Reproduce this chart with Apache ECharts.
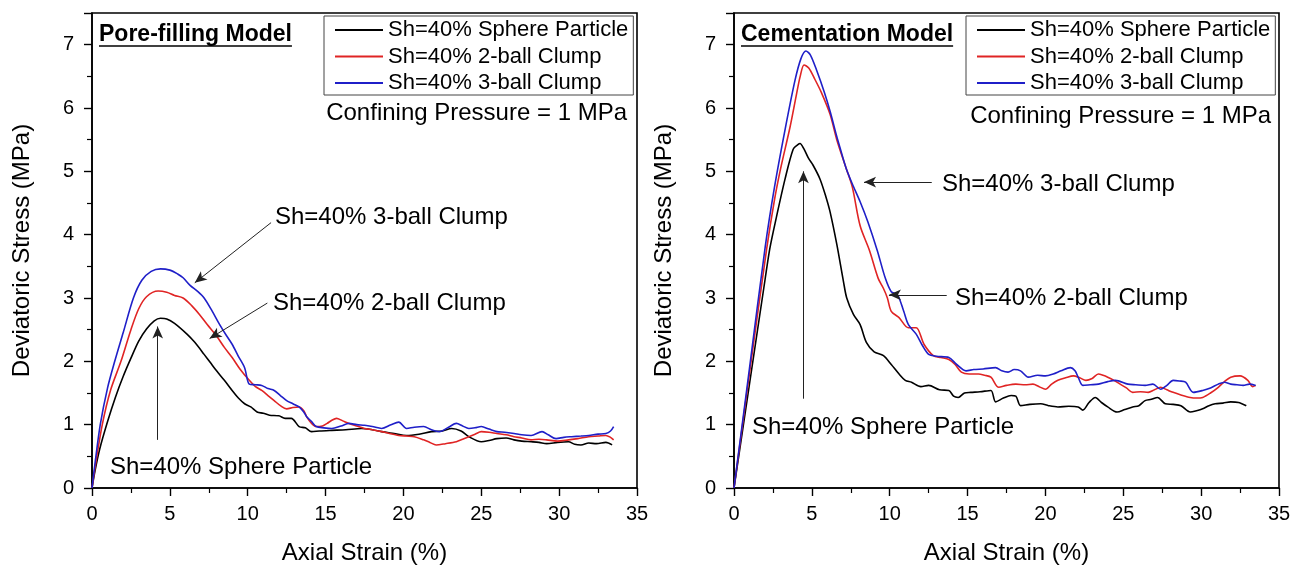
<!DOCTYPE html>
<html>
<head>
<meta charset="utf-8">
<script src="https://cdn.jsdelivr.net/npm/echarts@6/dist/echarts.min.js"></script>
<style>
html,body{margin:0;padding:0;background:#fff;}
#chart{width:1301px;height:570px;}
</style>
</head>
<body>
<div id="chart"></div>
<script>
// ---------- DATA ----------
const seriesNames = ['Sh=40% Sphere Particle', 'Sh=40% 2-ball Clump', 'Sh=40% 3-ball Clump'];
const xTicks = [0, 5, 10, 15, 20, 25, 30, 35];
const yTicks = [0, 1, 2, 3, 4, 5, 6, 7];

// Pore-filling model  [axial strain %, deviatoric stress MPa]
const poreSphere = [[0,0],[0.2,0.28],[0.5,0.62],[1,1.05],[1.5,1.43],[2,1.76],[2.5,2.05],[3,2.32],[3.5,2.51],[4,2.64],[4.4,2.68],[4.8,2.67],[5.3,2.6],[6.1,2.43],[6.6,2.3],[7.2,2.11],[7.6,1.98],[8.0,1.85],[8.5,1.7],[9.0,1.54],[9.4,1.42],[9.8,1.33],[10.2,1.28],[10.6,1.2],[11.0,1.18],[11.4,1.15],[12.0,1.14],[12.4,1.1],[12.8,1.1],[13.3,0.97],[13.7,0.95],[14.1,0.89],[14.6,0.9],[15.4,0.91],[16.3,0.92],[17.3,0.94],[18.0,0.92],[18.6,0.89],[19.4,0.86],[20.2,0.83],[21.0,0.85],[21.8,0.89],[22.5,0.9],[23.1,0.94],[23.7,0.9],[24.2,0.81],[25.0,0.73],[25.5,0.75],[26.0,0.78],[26.6,0.79],[27.1,0.76],[27.6,0.74],[28.2,0.73],[28.7,0.72],[29.2,0.7],[29.9,0.72],[30.6,0.73],[31.0,0.69],[31.4,0.68],[31.9,0.71],[32.4,0.7],[33.0,0.72],[33.4,0.68]];
const pore2Ball = [[0,0],[0.2,0.33],[0.66,1.0],[1.2,1.55],[1.86,2.0],[2.5,2.5],[3.0,2.83],[3.5,3.02],[4.25,3.11],[4.8,3.09],[5.3,3.04],[5.85,3.0],[6.4,2.88],[6.9,2.74],[7.4,2.58],[8.0,2.4],[8.5,2.22],[9.0,2.06],[9.5,1.88],[10.1,1.7],[10.5,1.6],[10.9,1.54],[11.3,1.46],[11.7,1.38],[12.1,1.3],[12.5,1.25],[12.9,1.27],[13.3,1.28],[13.6,1.22],[13.8,1.12],[14.1,1.02],[14.4,0.97],[14.8,0.98],[15.1,1.02],[15.4,1.07],[15.7,1.1],[16.1,1.06],[16.5,1.02],[17.0,0.98],[17.5,0.94],[18.0,0.92],[18.6,0.89],[19.1,0.86],[19.7,0.83],[20.2,0.82],[20.7,0.81],[21.3,0.76],[21.7,0.72],[22.1,0.68],[22.7,0.7],[23.4,0.73],[23.8,0.77],[24.2,0.81],[24.6,0.85],[25.0,0.89],[25.5,0.88],[26.0,0.86],[26.6,0.84],[27.1,0.81],[27.6,0.79],[28.2,0.76],[28.7,0.77],[29.2,0.76],[29.9,0.74],[30.6,0.76],[31.2,0.78],[31.9,0.81],[32.5,0.82],[33.0,0.83],[33.3,0.8],[33.5,0.76]];
const pore3Ball = [[0,0],[0.2,0.4],[0.53,1.0],[1.0,1.58],[1.46,2.0],[2.0,2.45],[2.66,3.0],[3.2,3.28],[3.8,3.42],[4.4,3.46],[5.0,3.44],[5.5,3.38],[5.85,3.32],[6.3,3.2],[6.8,3.1],[7.2,3.0],[7.7,2.8],[8.2,2.58],[8.6,2.42],[9.0,2.27],[9.4,2.08],[9.8,1.9],[10.1,1.64],[10.5,1.63],[10.9,1.62],[11.3,1.57],[11.7,1.54],[12.1,1.46],[12.5,1.38],[12.9,1.33],[13.3,1.28],[13.6,1.2],[13.8,1.12],[14.1,1.05],[14.4,0.97],[14.9,0.95],[15.4,0.94],[16.0,0.98],[16.5,1.02],[17.0,1.0],[17.5,0.99],[18.0,0.97],[18.6,0.94],[19.2,1.0],[19.7,1.04],[20.2,0.94],[20.7,0.96],[21.3,0.97],[21.8,0.92],[22.3,0.89],[22.9,0.96],[23.4,1.02],[23.8,0.98],[24.2,0.94],[24.6,0.95],[25.0,0.97],[25.5,0.93],[26.0,0.89],[26.5,0.88],[27.1,0.86],[27.6,0.84],[28.2,0.83],[28.9,0.89],[29.3,0.84],[29.8,0.78],[30.3,0.8],[30.8,0.81],[31.4,0.82],[31.9,0.83],[32.5,0.85],[33.0,0.86],[33.3,0.9],[33.5,0.97]];

// Cementation model
const cemSphere = [[0,0],[1,1.65],[2,3.3],[2.3,3.78],[2.7,4.25],[3.28,4.88],[3.8,5.35],[4.1,5.42],[4.24,5.44],[4.5,5.35],[4.8,5.2],[5.07,5.1],[5.52,4.88],[5.9,4.6],[6.17,4.36],[6.6,3.85],[7.03,3.26],[7.24,3.0],[7.67,2.74],[8.1,2.58],[8.5,2.3],[9.0,2.15],[9.6,2.09],[10.1,1.95],[10.6,1.8],[11.0,1.7],[11.4,1.67],[12.0,1.6],[12.5,1.62],[13.2,1.55],[13.8,1.54],[14.1,1.45],[14.4,1.43],[14.8,1.5],[15.2,1.51],[15.8,1.52],[16.5,1.54],[16.8,1.36],[17.3,1.42],[17.8,1.46],[18.1,1.45],[18.4,1.3],[19.0,1.32],[19.7,1.33],[20.2,1.3],[20.8,1.28],[21.5,1.29],[22.1,1.28],[22.4,1.23],[22.8,1.35],[23.2,1.43],[23.6,1.35],[24.0,1.28],[24.6,1.2],[25.1,1.24],[25.6,1.28],[26.0,1.3],[26.4,1.38],[26.8,1.4],[27.2,1.43],[27.7,1.33],[28.2,1.32],[28.7,1.3],[29.3,1.2],[29.7,1.22],[30.1,1.25],[30.5,1.3],[30.9,1.33],[31.4,1.34],[31.9,1.36],[32.4,1.35],[32.9,1.3]];
const cem2Ball = [[0,0],[1,1.82],[2.1,3.78],[2.6,4.55],[3.0,5.05],[3.6,5.7],[4.0,6.2],[4.25,6.5],[4.5,6.68],[4.8,6.63],[5.2,6.45],[5.6,6.25],[6.17,5.9],[6.6,5.5],[7.2,5.05],[7.6,4.75],[8.1,4.14],[8.7,3.75],[9.26,3.31],[9.6,3.15],[9.85,3.0],[10.1,2.79],[10.6,2.69],[11.2,2.53],[11.7,2.53],[12.2,2.27],[12.8,2.09],[13.3,2.06],[13.8,2.03],[14.2,1.95],[14.6,1.83],[15.1,1.8],[15.7,1.8],[16.1,1.78],[16.5,1.75],[17.0,1.59],[17.5,1.62],[18.1,1.64],[18.7,1.63],[19.2,1.64],[19.6,1.6],[20.0,1.56],[20.4,1.64],[20.8,1.7],[21.3,1.74],[21.8,1.77],[22.2,1.74],[22.6,1.7],[23.0,1.73],[23.4,1.8],[23.7,1.78],[24.0,1.75],[24.4,1.7],[24.8,1.64],[25.2,1.58],[25.6,1.51],[26.1,1.52],[26.6,1.51],[27.0,1.55],[27.4,1.59],[27.8,1.55],[28.2,1.51],[28.7,1.47],[29.3,1.43],[29.7,1.42],[30.1,1.43],[30.6,1.5],[31.1,1.59],[31.5,1.68],[31.9,1.75],[32.5,1.77],[33.0,1.7],[33.3,1.6],[33.5,1.62]];
const cem3Ball = [[0,0],[1,1.9],[2,3.8],[2.6,4.75],[3.28,5.66],[3.92,6.44],[4.3,6.78],[4.62,6.9],[4.9,6.84],[5.3,6.6],[5.8,6.25],[6.17,5.95],[6.6,5.55],[6.8,5.38],[7.2,5.05],[7.6,4.8],[8.1,4.52],[8.6,4.2],[9.2,3.75],[9.72,3.31],[10.1,3.1],[10.5,3.05],[10.9,2.79],[11.2,2.58],[11.7,2.43],[12.1,2.25],[12.5,2.11],[13.0,2.08],[13.8,2.06],[14.3,1.95],[14.9,1.85],[15.4,1.87],[16.0,1.88],[16.8,1.9],[17.2,1.85],[17.6,1.83],[18.0,1.87],[18.4,1.85],[18.9,1.75],[19.5,1.78],[20.0,1.77],[20.5,1.8],[21.0,1.85],[21.6,1.9],[21.9,1.85],[22.1,1.75],[22.4,1.62],[22.9,1.63],[23.4,1.64],[24.0,1.68],[24.5,1.7],[25.3,1.64],[25.8,1.63],[26.4,1.62],[26.9,1.64],[27.4,1.56],[27.8,1.62],[28.2,1.7],[28.6,1.69],[29.0,1.67],[29.5,1.51],[30.1,1.54],[30.6,1.58],[31.1,1.64],[31.5,1.67],[31.9,1.64],[32.3,1.63],[32.7,1.62],[33.1,1.64],[33.5,1.62]];

// ---------- STYLE / LAYOUT ----------
const FONT = '"Liberation Sans", Arial, Helvetica, sans-serif';
const colors = ['#000000', '#e02424', '#1f1fc8'];
const grids = [
  {left: 92, top: 13, width: 545, height: 479},
  {left: 734, top: 13, width: 545, height: 479}
];

// annotation arrows in data coordinates [from, to]
const arrowsPore = [
  [[11.5, 4.19], [6.6, 3.24]],
  [[11.26, 2.92], [7.55, 2.36]],
  [[4.22, 0.76], [4.22, 2.55]]
];
const arrowsCem = [
  [[12.7, 4.83], [8.35, 4.83]],
  [[13.66, 3.05], [9.95, 3.05]],
  [[4.46, 1.41], [4.46, 5.0]]
];

function axisX(gi) {
  return {
    type: 'value', gridIndex: gi, min: 0, max: 35, interval: 5,
    name: 'Axial Strain (%)', nameLocation: 'middle', nameGap: 53,
    nameTextStyle: {fontSize: 24, color: '#000', fontFamily: FONT},
    axisLine: {show: true, onZero: false, lineStyle: {color: '#000', width: 1.6}},
    axisTick: {show: true, inside: false, length: 8, lineStyle: {color: '#000', width: 1.4}},
    minorTick: {show: true, splitNumber: 2, length: 5, lineStyle: {color: '#000', width: 1.2}},
    splitLine: {show: false},
    axisLabel: {fontSize: 20, color: '#000', margin: 16, fontFamily: FONT,
      formatter: v => xTicks.indexOf(v) >= 0 ? String(v) : ''}
  };
}
function axisY(gi) {
  return {
    type: 'value', gridIndex: gi, min: 0, max: 7.5, interval: 1,
    name: 'Deviatoric Stress (MPa)', nameLocation: 'middle', nameGap: 58,
    nameTextStyle: {fontSize: 24, color: '#000', fontFamily: FONT},
    axisLine: {show: true, onZero: false, lineStyle: {color: '#000', width: 1.6}},
    axisTick: {show: true, inside: false, length: 8, lineStyle: {color: '#000', width: 1.4}},
    minorTick: {show: true, splitNumber: 2, length: 5, lineStyle: {color: '#000', width: 1.2}},
    splitLine: {show: false},
    axisLabel: {fontSize: 20, color: '#000', margin: 18, fontFamily: FONT, showMaxLabel: false,
      formatter: v => yTicks.indexOf(v) >= 0 ? String(v) : ''}
  };
}

function arrowMarkLine(arrows) {
  return {
    silent: true, symbol: ['none', 'arrow'], symbolSize: [8, 12],
    lineStyle: {color: '#222', width: 1, type: 'solid'},
    label: {show: false}, emphasis: {disabled: true},
    data: arrows.map(a => [{coord: a[0]}, {coord: a[1]}])
  };
}

function lineSeries(name, data, gi, color, extra) {
  return Object.assign({
    type: 'line', name: name, data: data, xAxisIndex: gi, yAxisIndex: gi,
    showSymbol: false, symbol: 'none', smooth: 0.3,
    lineStyle: {color: color, width: 1.6}, itemStyle: {color: color},
    z: 3
  }, extra || {});
}

function legendAt(left) {
  return {
    data: seriesNames, left: left, top: 16, orient: 'vertical',
    icon: 'rect', itemWidth: 48, itemHeight: 2, itemGap: 4.5,
    padding: [3, 5, 1, 11], borderColor: '#444', borderWidth: 1,
    selectedMode: false,
    textStyle: {fontSize: 22, lineHeight: 22, color: '#000', fontFamily: FONT}
  };
}

// text measuring for underlines
const mctx = document.createElement('canvas').getContext('2d');
function textW(font, t) { mctx.font = font; return mctx.measureText(t).width; }

const titleFont = 'bold 23px ' + FONT;
const annFont = '24px ' + FONT;
const titles = [
  {text: 'Pore-filling Model', x: 99, y: 35},
  {text: 'Cementation Model', x: 741, y: 35}
];
const notes = [
  {text: 'Confining Pressure = 1 MPa', x: 627, y: 113, align: 'right'},
  {text: 'Confining Pressure = 1 MPa', x: 1271, y: 116, align: 'right'},
  {text: 'Sh=40% 3-ball Clump', x: 275, y: 217, align: 'left'},
  {text: 'Sh=40% 2-ball Clump', x: 273, y: 303, align: 'left'},
  {text: 'Sh=40% Sphere Particle', x: 110, y: 467, align: 'left'},
  {text: 'Sh=40% 3-ball Clump', x: 942, y: 184, align: 'left'},
  {text: 'Sh=40% 2-ball Clump', x: 955, y: 298, align: 'left'},
  {text: 'Sh=40% Sphere Particle', x: 752, y: 427, align: 'left'}
];

const graphics = [];
titles.forEach(t => {
  graphics.push({type: 'text', x: t.x, y: t.y, z: 10,
    style: {text: t.text, font: titleFont, fill: '#000', align: 'left', verticalAlign: 'middle'}});
  const w = textW(titleFont, t.text);
  graphics.push({type: 'line', z: 10, shape: {x1: t.x, y1: t.y + 11, x2: t.x + w, y2: t.y + 11},
    style: {stroke: '#000', lineWidth: 1.6}});
});
notes.forEach(n => {
  graphics.push({type: 'text', x: n.x, y: n.y, z: 10,
    style: {text: n.text, font: annFont, fill: '#000', align: n.align, verticalAlign: 'middle'}});
});

const chart = echarts.init(document.getElementById('chart'), null, {renderer: 'canvas'});
chart.setOption({
  animation: false,
  backgroundColor: '#fff',
  textStyle: {fontFamily: FONT},
  grid: grids.map(g => Object.assign({show: true, borderColor: '#000', borderWidth: 1.6, backgroundColor: 'transparent'}, g)),
  xAxis: [axisX(0), axisX(1)],
  yAxis: [axisY(0), axisY(1)],
  legend: [legendAt(324), legendAt(966)],
  series: [
    lineSeries(seriesNames[0], poreSphere, 0, colors[0], {markLine: arrowMarkLine(arrowsPore)}),
    lineSeries(seriesNames[1], pore2Ball, 0, colors[1]),
    lineSeries(seriesNames[2], pore3Ball, 0, colors[2]),
    lineSeries(seriesNames[0], cemSphere, 1, colors[0], {markLine: arrowMarkLine(arrowsCem)}),
    lineSeries(seriesNames[1], cem2Ball, 1, colors[1]),
    lineSeries(seriesNames[2], cem3Ball, 1, colors[2])
  ],
  graphic: graphics
});
</script>
</body>
</html>
